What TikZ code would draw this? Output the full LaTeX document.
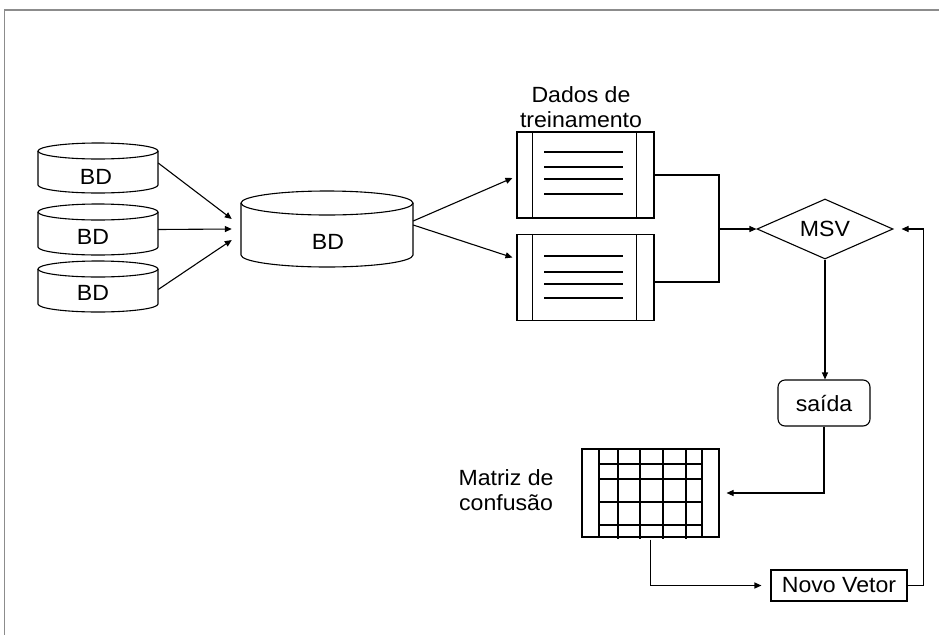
\documentclass[tikz,border=0pt]{standalone}
\usepackage{fontspec}
\setmainfont{Liberation Sans}[FakeStretch=1.05]
\usetikzlibrary{arrows.meta,shapes.geometric,calc}
\begin{document}
\begin{tikzpicture}[x=1pt,y=1pt,
  every node/.style={font=\fontsize{22}{25}\selectfont},
  ln/.style={line width=1.1pt,draw=black},
  arr/.style={ln,-{Triangle[length=7pt,width=6pt]}},
  box/.style={draw=none,inner sep=0pt},
  doc/.style={ln,rectangle,inner sep=0pt,minimum width=137pt,minimum height=86pt},
  frame/.style={draw=gray!90,line width=1.5pt}
]
\useasboundingbox (0,0) rectangle (939,-635);
\draw[frame] (939,-10) -- (4.5,-10) -- (4.5,-635);

% small cylinders
\draw[ln] (38,-151) -- (38,-185) arc[start angle=180,end angle=360,x radius=60pt,y radius=8pt] -- (158,-151);
\draw[ln] (98,-151) ellipse[x radius=60pt,y radius=8pt];
\node[box,minimum width=120pt,minimum height=34pt] (c1) at (98,-168) {};
\node (c1t) at (96,-177) {BD};

\draw[ln] (38,-212) -- (38,-247) arc[start angle=180,end angle=360,x radius=60pt,y radius=8pt] -- (158,-212);
\draw[ln] (98,-212) ellipse[x radius=60pt,y radius=8pt];
\node[box,minimum width=120pt,minimum height=35pt] (c2) at (98,-229.5) {};
\node (c2t) at (93,-237) {BD};

\draw[ln] (38,-269) -- (38,-304) arc[start angle=180,end angle=360,x radius=60pt,y radius=8pt] -- (158,-269);
\draw[ln] (98,-269) ellipse[x radius=60pt,y radius=8pt];
\node[box,minimum width=120pt,minimum height=35pt] (c3) at (98,-286.5) {};
\node (c3t) at (93,-293) {BD};

% big cylinder
\draw[ln] (241,-203) -- (241,-255) arc[start angle=180,end angle=360,x radius=86pt,y radius=12pt] -- (413,-203);
\draw[ln] (327,-203) ellipse[x radius=86pt,y radius=12pt];
\node[box,minimum width=172pt,minimum height=52pt] (big) at (327,-229) {};
\node (bigt) at (328,-242) {BD};

\draw[arr] ([yshift=5pt]c1.east) -- ([xshift=-9pt,yshift=10pt]big.west);
\draw[arr] (c2.east) -- ([xshift=-9pt]big.west);
\draw[arr] ([yshift=-3pt]c3.east) -- ([xshift=-9pt,yshift=-11pt]big.west);

% training documents
\node[doc] (d1) at (585.5,-175) {};
\node[doc] (d2) at (585.5,-277.5) {};
\foreach \d in {d1,d2}{
  \draw[ln] ([xshift=16pt]\d.north west) -- ([xshift=16pt]\d.south west);
  \draw[ln] ([xshift=-18pt]\d.north east) -- ([xshift=-18pt]\d.south east);
}
\foreach \y in {152,167,179,194}{\draw[ln] (544,-\y) -- (623,-\y);}
\foreach \y in {256,272,284,298}{\draw[ln] (544,-\y) -- (623,-\y);}
\node[align=center] (dadost) at (581,-107) {Dados de\\treinamento};

\draw[arr] ([yshift=8pt]big.east) -- ([xshift=-4pt,yshift=-3pt]d1.west);
\draw[arr] ([yshift=4pt]big.east) -- ([xshift=-4pt,yshift=20pt]d2.west);

% MSV
\node[ln,diamond,aspect=2.27,minimum width=136pt,minimum height=60pt,inner sep=0pt] (msv) at (825,-229) {MSV};
\coordinate (j) at (719,-229);
\draw[ln] (d1.east) -| (j);
\draw[ln] ([yshift=-4.5pt]d2.east) -| (j);
\draw[arr] (j) -- (msv.west);

% saida
\node[ln,rectangle,rounded corners=7pt,minimum width=92pt,minimum height=46pt,inner sep=0pt] (saida) at (824,-403) {saída};
\draw[arr] (msv.south) -- (msv.south |- saida.north);

% confusion matrix
\node[ln,rectangle,inner sep=0pt,minimum width=137pt,minimum height=88pt] (mat) at (650.5,-493) {};
\draw[ln] (599,-449) -- (599,-537);
\draw[ln] (702,-449) -- (702,-537);
\foreach \x in {618,640,663,686}{\draw[ln] (\x,-449) -- (\x,-539);}
\foreach \y in {464,479,502,525}{\draw[ln] (599,-\y) -- (702,-\y);}
\node[align=center] (matt) at (506,-490) {Matriz de\\confusão};

\draw[arr,shorten >=7pt] (saida.south) |- (mat.east);

% novo vetor
\node[ln,rectangle,inner sep=0pt,minimum width=136pt,minimum height=31pt] (nv) at (839,-585.5) {Novo Vetor};
\draw[arr,shorten >=9pt] ([yshift=-2pt]mat.south) |- (nv.west);
\draw[arr,shorten >=8pt] (nv.east) -- ++(16pt,0) |- (msv.east);
\end{tikzpicture}
\end{document}
